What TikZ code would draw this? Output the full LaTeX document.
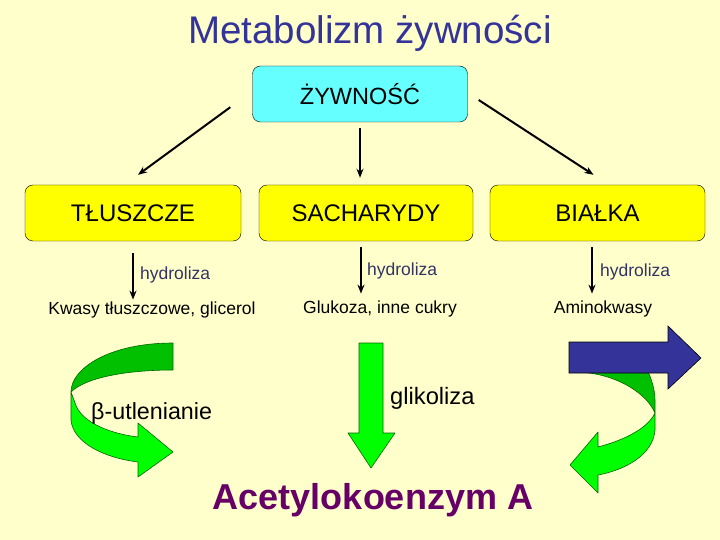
\documentclass[tikz,border=0pt]{standalone}
\usepackage{fontspec}
\setmainfont{Liberation Sans}
\usetikzlibrary{arrows.meta,positioning,calc}
\definecolor{bgyellow}{HTML}{FFFFCC}
\definecolor{titleblue}{HTML}{333399}
\definecolor{boxcyan}{HTML}{66FFFF}
\definecolor{boxyellow}{HTML}{FFFF00}
\definecolor{labelblue}{HTML}{333366}
\definecolor{lightgreen}{HTML}{00FF00}
\definecolor{darkgreen}{HTML}{00C000}
\definecolor{edgegreen}{HTML}{006600}
\definecolor{acetyl}{HTML}{660066}
\newcommand{\fsz}[1]{\fontsize{#1}{#1}\selectfont}

\begin{document}
\begin{tikzpicture}[x=1pt,y=-1pt,>={Stealth[length=9pt,width=7pt]}, every node/.style={inner sep=0pt}]
\tikzstyle{box}=[draw,rounded corners=8pt,minimum width=215pt,minimum height=56pt,font=\fsz{24}]
\tikzstyle{hydro}=[anchor=west,text=labelblue,font=\fsz{17.5}]
\tikzstyle{product}=[font=\fsz{17.5}]
\tikzstyle{bigarrow}=[draw=edgegreen,line width=0.6pt,line join=round]
\fill[bgyellow] (0,0) rectangle (720,540);
\useasboundingbox (0,0) rectangle (720,540);
\node[text=titleblue,font=\fsz{38.5}] (title) at (370,33) {Metabolizm żywności};
\node[box,fill=boxcyan,font=\fsz{23.5}] (food) at (360,94) {ŻYWNOŚĆ};
\node[box,fill=boxyellow,minimum width=216pt] (fats) at (133,213) {TŁUSZCZE};
\node[box,fill=boxyellow,minimum width=214pt] (sugars) at (366,213) {SACHARYDY};
\node[box,fill=boxyellow] (proteins) at (597.5,213) {BIAŁKA};
\draw[->,line width=2pt] ([xshift=-22pt,yshift=15pt]food.south west) -- ([xshift=5pt,yshift=10pt]fats.north);
\draw[->,line width=2pt] ([yshift=-6pt]food.south) -- ([xshift=-6pt,yshift=7pt]sugars.north);
\draw[->,line width=2pt] ([xshift=11pt,yshift=-6pt]food.east) -- ([xshift=-4pt,yshift=10pt]proteins.north);
% products of hydrolysis
\node[product] (acids) at (152,310) {Kwasy tłuszczowe, glicerol};
\node[product] (glucose) at (380,309) {Glukoza, inne cukry};
\node[product] (amino) at (603,309) {Aminokwasy};
\draw[->,line width=1.5pt] ([yshift=-12pt]fats.south) -- ($(fats.south |- acids.north)+(0,-2)$);
\draw[->,line width=1.5pt] ([xshift=-5pt,yshift=-6pt]sugars.south) -- ($(sugars.south |- glucose.north)+(-5,-7)$);
\draw[->,line width=1.5pt] ([xshift=-5.5pt,yshift=-6pt]proteins.south) -- ($(proteins.south |- amino.north)+(-5.5,-7)$);
\node[hydro] (hfats) at (140,275) {hydroliza};
\node[hydro] (hsugars) at (367,271) {hydroliza};
\node[hydro] (hproteins) at (600,272) {hydroliza};
% beta-oxidation curl
\filldraw[bigarrow,fill=darkgreen] (173,343) .. controls (110,343) and (71,368) .. (71,392)
  .. controls (85,378) and (125,370) .. (173,370) -- cycle;
\filldraw[bigarrow,fill=lightgreen] (71,392) -- (71,420) .. controls (73,443) and (105,458) .. (138,462)
  -- (138,477) -- (173,452) -- (138,423) -- (138,437) .. controls (105,433) and (80,420) .. (75,403) -- cycle;
% glycolysis
\filldraw[bigarrow,fill=lightgreen] (359,343) -- (383,343) -- (383,433) -- (395,433) -- (371,468) -- (348,433) -- (359,433) -- cycle;
% amino acids curl
\filldraw[bigarrow,fill=darkgreen] (575,372) .. controls (610,372) and (645,390) .. (655,413)
  -- (655,400) .. controls (655,388) and (650,375) .. (645,365) -- cycle;
\filldraw[bigarrow,fill=lightgreen] (655,413) -- (655,430) .. controls (653,455) and (625,470) .. (598,475)
  -- (598,493) -- (570,465) -- (598,432) -- (598,447) .. controls (625,440) and (648,428) .. (655,413) -- cycle;
\filldraw[draw=black,line width=0.6pt,fill=titleblue] (569,342) -- (668,342) -- (668,326) -- (701,358)
  -- (668,389) -- (668,373) -- (569,373) -- cycle;
\node[anchor=west,font=\fsz{23.3}] (betaox) at (91,413) {β-utlenianie};
\node[anchor=west,font=\fsz{23.7}] (glyco) at (390,398) {glikoliza};
\node[text=acetyl,font=\fsz{36}\bfseries] (acetylcoa) at (373,500) {Acetylokoenzym A};
\end{tikzpicture}
\end{document}
